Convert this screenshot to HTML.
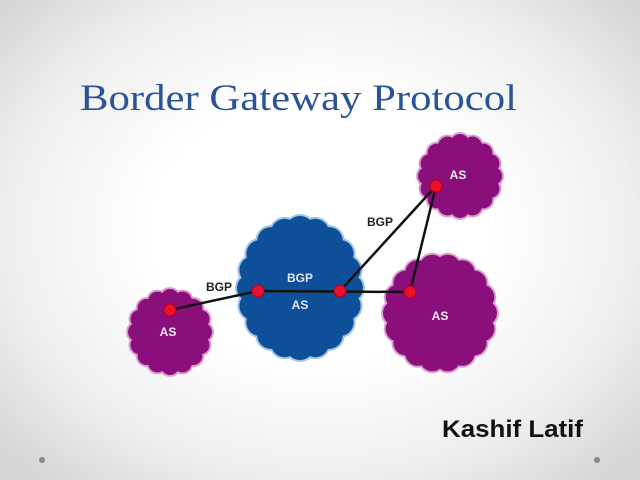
<!DOCTYPE html>
<html><head><meta charset="utf-8"><style>
html,body{margin:0;padding:0;width:640px;height:480px;overflow:hidden}
body{background:radial-gradient(ellipse 420px 330px at 50% 48%,#ffffff 40%,#eeeeee 75%,#d6d6d6 100%)}
</style></head><body>
<svg id="s" width="640" height="480" xmlns="http://www.w3.org/2000/svg" style="position:absolute;left:0;top:0">
<text x="80" y="110" font-family="Liberation Serif, serif" font-size="37" fill="#2b5497" textLength="437" lengthAdjust="spacingAndGlyphs">Border Gateway Protocol</text>
<g id="clouds"></g>
<g stroke="#111" stroke-width="2.5" fill="none">
<line x1="170" y1="310" x2="258" y2="291"/>
<line x1="258" y1="291" x2="410" y2="292"/>
<line x1="340" y1="291" x2="436" y2="186"/>
<line x1="436" y1="186" x2="410" y2="292"/>
</g>
<g fill="#e8102a" stroke="#b00018" stroke-width="1">
<circle cx="170" cy="310" r="6"/><circle cx="258" cy="291" r="6"/><circle cx="340" cy="291" r="6"/><circle cx="410" cy="292" r="6"/><circle cx="436" cy="186" r="6"/>
</g>
<g font-family="Liberation Sans, sans-serif" font-weight="bold" font-size="12" text-anchor="middle">
<text x="219" y="291" fill="#222">BGP</text>
<text x="380" y="226" fill="#222">BGP</text>
<text x="300" y="282" fill="#e6e6f0">BGP</text>
<text x="300" y="309" fill="#e6e6f0">AS</text>
<text x="458" y="179" fill="#eee">AS</text>
<text x="168" y="336" fill="#eee">AS</text>
<text x="440" y="320" fill="#eee">AS</text>
</g>
<text x="442" y="437" font-family="Liberation Sans, sans-serif" font-weight="bold" font-size="24" fill="#111" textLength="141" lengthAdjust="spacingAndGlyphs">Kashif Latif</text>
<circle cx="42" cy="460" r="3" fill="#888"/>
<circle cx="597" cy="460" r="3" fill="#888"/>
</svg>
<script>
var g=document.getElementById('clouds');
function cloud(cx,cy,rx,ry,fill,edge,n){
  var s='';
  var br=Math.min(rx,ry)*0.22;
  for(var pass=0;pass<2;pass++){
    var col=pass?fill:edge, add=pass?0:2;
    for(var i=0;i<n;i++){var a=i/n*2*Math.PI;
      s+='<circle cx="'+(cx+(rx-br)*Math.cos(a))+'" cy="'+(cy+(ry-br)*Math.sin(a))+'" r="'+(br+add)+'" fill="'+col+'"/>';}
    s+='<ellipse cx="'+cx+'" cy="'+cy+'" rx="'+(rx-br)+'" ry="'+(ry-br)+'" fill="'+col+'"/>';
  }
  g.insertAdjacentHTML('beforeend',s);
}
cloud(170,332,42,43,'#8a0f7a','#d9a0d0',16);
cloud(300,288,63,72,'#0d4f98','#9ec3e6',20);
cloud(460,176,42,42,'#8a0f7a','#d9a0d0',16);
cloud(440,313,57,59,'#8a0f7a','#d9a0d0',18);
</script>
</body></html>
